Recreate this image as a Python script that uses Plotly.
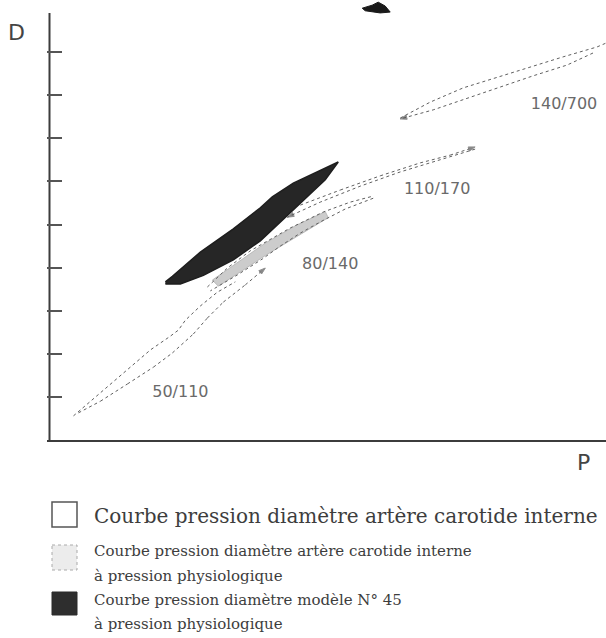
import plotly.graph_objects as go

W, H = 606, 638
ML, MR, MT, MB = 47, 0, 0, 198
PW, PH = W - ML - MR, H - MT - MB

# ---- data (P, D in arbitrary units) ----
model_P = [11.6, 12.3, 15.1, 18.4, 21.1, 22.3, 24.4, 26.8, 28.9, 27.6, 25.6, 23.4, 21.1, 18.4, 15.4, 13.1, 11.6]
model_D = [3.67, 3.80, 4.36, 4.90, 5.39, 5.64, 5.96, 6.23, 6.45, 6.04, 5.60, 5.12, 4.62, 4.18, 3.82, 3.62, 3.62]

physio_P = [16.3, 19.1, 21.6, 24.6, 27.6, 27.9, 24.6, 21.6, 19.1, 16.9, 16.3]
physio_D = [3.71, 4.17, 4.57, 4.97, 5.30, 5.16, 4.69, 4.28, 3.90, 3.57, 3.71]

c50_up_P = [2.4, 5.4, 7.8, 10.1, 12.1, 12.9, 13.6, 15.1, 16.8, 18.6]
c50_up_D = [0.56, 1.16, 1.62, 2.09, 2.41, 2.55, 2.78, 3.11, 3.43, 3.67]
c50_lo_P = [2.9, 5.1, 7.8, 10.4, 12.3, 14.4, 15.8, 17.4, 19.6, 21.6]
c50_lo_D = [0.63, 0.90, 1.30, 1.69, 2.02, 2.46, 2.83, 3.20, 3.60, 3.99]

c80_up_P = [15.8, 17.8, 20.1, 24.1, 27.4, 30.1, 32.4]
c80_up_D = [3.55, 3.99, 4.39, 4.92, 5.29, 5.52, 5.66]
c80_lo_P = [32.4, 29.6, 27.1, 25.1, 23.1, 21.3, 18.8, 16.1]
c80_lo_D = [5.61, 5.36, 5.06, 4.80, 4.50, 4.20, 3.83, 3.46]

c110_up_P = [25.1, 29.1, 33.1, 37.1, 40.1, 42.6]
c110_up_D = [5.45, 5.80, 6.13, 6.43, 6.61, 6.80]
c110_lo_P = [42.6, 39.1, 35.1, 31.1, 27.1, 23.8]
c110_lo_D = [6.75, 6.50, 6.22, 5.89, 5.52, 5.17]

c140_up_P = [35.1, 38.1, 41.4, 44.8, 48.1, 51.4, 54.8, 55.7]
c140_up_D = [7.47, 7.84, 8.17, 8.42, 8.65, 8.89, 9.12, 9.21]
c140_lo_P = [54.4, 51.8, 48.4, 45.1, 41.8, 38.4, 35.1]
c140_lo_D = [8.98, 8.70, 8.45, 8.19, 7.94, 7.66, 7.45]

blot_P = [31.3, 32.3, 32.9, 33.6, 34.1, 33.1, 31.6, 31.3]
blot_D = [10.02, 10.09, 10.16, 10.07, 9.93, 9.91, 9.96, 10.02]

curve_labels = ["140/700", "110/170", "80/140", "50/110"]
label_P = [51.5, 38.8, 28.1, 13.1]
label_D = [7.77, 5.80, 4.06, 1.09]

D_ticks = [1, 2, 3, 4, 5, 6, 7, 8, 9]
D_axis_top = 9.91

legend_lines = [
    "Courbe pression diamètre artère carotide interne",
    "Courbe pression diamètre artère carotide interne",
    "à pression physiologique",
    "Courbe pression diamètre modèle N° 45",
    "à pression physiologique",
]

# ---- figure ----
fig = go.Figure()

LINE = dict(color="#606060", width=1.0, dash="dot")


def arrow_sizes(n):
    return [0] * (n - 1) + [7]


fig.add_trace(go.Scatter(x=physio_P, y=physio_D, mode="lines", fill="toself",
                         fillcolor="#cccccc", line=dict(color="#b0b0b0", width=0.8),
                         hoverinfo="skip"))
fig.add_trace(go.Scatter(x=model_P, y=model_D, mode="lines", fill="toself",
                         fillcolor="#262626", line=dict(color="#1e1e1e", width=1.5),
                         hoverinfo="skip"))

for xs, ys, arrow in [
    (c50_up_P, c50_up_D, False), (c50_lo_P, c50_lo_D, True),
    (c80_up_P, c80_up_D, False), (c80_lo_P, c80_lo_D, False),
    (c110_up_P, c110_up_D, True), (c110_lo_P, c110_lo_D, True),
    (c140_up_P, c140_up_D, False), (c140_lo_P, c140_lo_D, True),
]:
    fig.add_trace(go.Scatter(
        x=xs, y=ys, mode="lines+markers" if arrow else "lines",
        line=LINE,
        marker=dict(symbol="arrow", angleref="previous",
                    size=arrow_sizes(len(xs)) if arrow else 0,
                    color="#555"),
        hoverinfo="skip"))

fig.add_trace(go.Scatter(x=blot_P, y=blot_D, mode="lines", fill="toself",
                         fillcolor="#1a1a1a", line=dict(color="#1a1a1a", width=1),
                         hoverinfo="skip"))

# y axis line
fig.add_trace(go.Scatter(x=[0, 0], y=[0, D_axis_top], mode="lines",
                         line=dict(color="#3c3c3c", width=2), hoverinfo="skip"))

fig.add_trace(go.Scatter(x=label_P, y=label_D, mode="text", text=curve_labels,
                         textfont=dict(family="DejaVu Sans", size=16, color="#6a6a6a"),
                         hoverinfo="skip"))


def px(x):
    return (x - ML) / PW


def py(y):
    return (H - MB - y) / PH


ann = []
ann.append(dict(text="D", x=px(16), y=py(33), xref="paper", yref="paper",
                showarrow=False, xanchor="center", yanchor="middle",
                font=dict(family="DejaVu Sans", size=22, color="#444")))
ann.append(dict(text="P", x=px(583), y=py(462), xref="paper", yref="paper",
                showarrow=False, xanchor="center", yanchor="middle",
                font=dict(family="DejaVu Sans", size=22, color="#444")))

LEG_FONT = "DejaVu Serif"
leg_y = [516, 551, 576, 600, 624]
leg_size = [20, 15, 15, 15, 15]
for txt, yy, sz in zip(legend_lines, leg_y, leg_size):
    ann.append(dict(text=txt, x=px(92), y=py(yy), xref="paper", yref="paper",
                    showarrow=False, xanchor="left", yanchor="middle",
                    font=dict(family=LEG_FONT, size=sz, color="#3d3d3d")))

shapes = [
    dict(type="rect", xref="paper", yref="paper", x0=px(52), x1=px(77), y0=py(502), y1=py(527),
         line=dict(color="#555", width=1.5), fillcolor="white"),
    dict(type="rect", xref="paper", yref="paper", x0=px(52), x1=px(77), y0=py(545), y1=py(570),
         line=dict(color="#aaa", width=1, dash="dot"), fillcolor="#ececec"),
    dict(type="rect", xref="paper", yref="paper", x0=px(52), x1=px(77), y0=py(592), y1=py(615),
         line=dict(color="#2a2a2a", width=1), fillcolor="#2e2e2e"),
]

fig.update_layout(
    width=W, height=H,
    margin=dict(l=ML, r=MR, t=MT, b=MB),
    paper_bgcolor="white", plot_bgcolor="white",
    showlegend=False,
    annotations=ann, shapes=shapes,
    xaxis=dict(range=[-0.25, 55.7], showline=True, linecolor="#3c3c3c", linewidth=2,
               showgrid=False, zeroline=False, showticklabels=False, ticks=""),
    yaxis=dict(range=[0, 10.21], showline=False, showgrid=False, zeroline=False,
               showticklabels=False, ticks="inside", ticklen=15, tickwidth=1.5,
               tickcolor="#555", tickvals=D_ticks),
)

fig.write_html("out.html", config={"displayModeBar": False},
               post_script="document.body.style.margin='0';document.body.style.overflow='hidden';")
